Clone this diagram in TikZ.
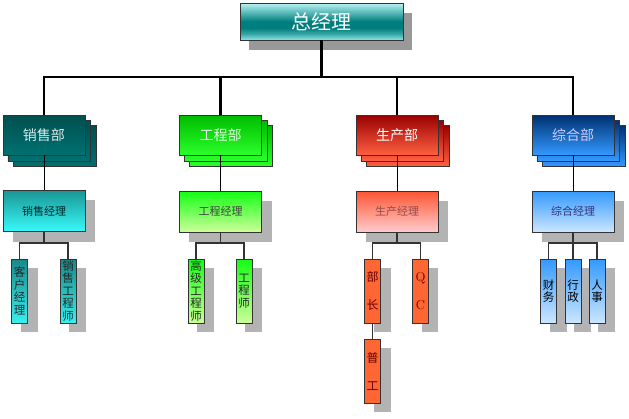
\documentclass[tikz,border=0pt]{standalone}
\usepackage{fontspec}
\newfontfamily\cjk{Noto Sans CJK SC}
\usetikzlibrary{backgrounds}
\definecolor{bordc}{HTML}{333333}
\definecolor{shadc}{HTML}{B3B3B3}
\definecolor{topshadc}{HTML}{999999}
% top
\definecolor{gmT}{HTML}{B8F4F4}\definecolor{gmM}{HTML}{007E7E}\definecolor{gmB}{HTML}{90E6E6}\definecolor{gmQ}{HTML}{3AA8A8}
\pgfdeclareverticalshading{gmshade}{100bp}{color(0bp)=(gmB); color(25bp)=(gmB); color(33bp)=(gmQ); color(41bp)=(gmM); color(50bp)=(gmM); color(75bp)=(gmT); color(100bp)=(gmT)}
% sales
\definecolor{sdT}{HTML}{004F4F}\definecolor{sdB}{HTML}{007070}
\definecolor{smT}{HTML}{1A9696}\definecolor{smB}{HTML}{38FAFA}
\definecolor{scT}{HTML}{1A8888}\definecolor{scB}{HTML}{38F0F0}
% engineering
\definecolor{edT}{HTML}{00BB00}\definecolor{edB}{HTML}{2AFF2A}
\definecolor{emT}{HTML}{14FF14}\definecolor{emB}{HTML}{CCFF99}
% production
\definecolor{pdT}{HTML}{990000}\definecolor{pdB}{HTML}{FF6040}
\definecolor{pmT}{HTML}{FF5533}\definecolor{pmB}{HTML}{FFCCCC}
\definecolor{pcF}{HTML}{FF6633}
% general
\definecolor{gdT}{HTML}{003070}\definecolor{gdB}{HTML}{3399FF}
\definecolor{gnT}{HTML}{3399FF}\definecolor{gnB}{HTML}{CCE6FF}
\begin{document}
\begin{tikzpicture}[x=1pt,y=-1pt,
  box/.style={draw=bordc,line width=0.8pt,rectangle,inner sep=0pt},
  gmbox/.style={box,minimum width=163pt,minimum height=37pt,shading=gmshade,
     text=white,font=\cjk\fontsize{20}{22}\selectfont},
  dept/.style={box,minimum width=82pt,minimum height=40pt,font=\cjk\fontsize{14}{16}\selectfont},
  mgr/.style={box,minimum width=82pt,minimum height=41pt,font=\cjk\fontsize{11}{13}\selectfont},
  staff/.style={box,minimum width=16pt,minimum height=64pt,align=center,font=\cjk\fontsize{11.5}{12.5}\selectfont},
  staffwide/.style={staff,font=\cjk\fontsize{12}{28}\selectfont},
  sd/.style={top color=sdT,bottom color=sdB},
  sm/.style={top color=smT,bottom color=smB},
  sc/.style={top color=scT,bottom color=scB},
  ed/.style={top color=edT,bottom color=edB},
  em/.style={top color=emT,bottom color=emB},
  pd/.style={top color=pdT,bottom color=pdB},
  pm/.style={top color=pmT,bottom color=pmB},
  pc/.style={fill=pcF},
  gd/.style={top color=gdT,bottom color=gdB},
  gn/.style={top color=gnT,bottom color=gnB},
  busline/.style={line width=2.6pt,black,line join=miter},
  dline/.style={line width=0.9pt,black},
  sline/.style={line width=1.1pt,bordc}
]
\useasboundingbox (0,0) rectangle (629,418);

% general manager
\node[gmbox] (gm) at (321.5,21.5) {总经理};

% departments
\node[dept,sd,text=white!85!teal] (d1) at (44,135) {销售部};
\node[dept,ed,text=white!88!green] (d2) at (220.5,135) {工程部};
\node[dept,pd,text=white] (d3) at (397,135) {生产部};
\node[dept,gd,text=white!80!blue] (d4) at (573,135) {综合部};

% managers
\node[mgr,sm,text=black!70!teal] (m1) at (44,211) {销售经理};
\node[mgr,em,text=black!75] (m2) at (220.5,211.5) {工程经理};
\node[mgr,pm,text=red!40!black!70] (m3) at (397,211.5) {生产经理};
\node[mgr,gn,text=blue!35!black!80] (m4) at (573,211.5) {综合经理};

% staff
\node[staff,sc,text=black!85] (c11) at (19.7,291) {客\\户\\经\\理};
\node[staff,sc,text=black!85] (c12) at (68,291) {销\\售\\工\\程\\师};
\node[staff,em,text=black!85] (c21) at (196,291) {高\\级\\工\\程\\师};
\node[staff,em,text=black!85] (c22) at (244,291) {工\\程\\师};
\node[staffwide,pc,text=red!40!black] (c31) at (372.7,291) {部\\长};
\node[staffwide,pc,text=red!40!black,font=\rmfamily\fontsize{13}{28}\selectfont] (c32) at (420.5,291) {Q\\C};
\node[staffwide,pc,text=red!40!black] (c33) at (372.7,371) {普\\工};
\node[staff,gn,text=black] (c41) at (548.7,291) {财\\务};
\node[staff,gn,text=black] (c42) at (573,291) {行\\政};
\node[staff,gn,text=black] (c43) at (597,291) {人\\事};

% shadows and stacks
\begin{scope}[on background layer]
  \fill[topshadc] ([shift={(9,10)}]gm.north west) rectangle ([shift={(9,10)}]gm.south east);
  \foreach \n in {m1,m2,m3,m4}
    \fill[shadc] ([shift={(10,10)}]\n.north west) rectangle ([shift={(10,10)}]\n.south east);
  \foreach \n in {c11,c12,c21,c22,c31,c32,c33,c41,c42,c43}
    \fill[shadc] ([shift={(9.5,9)}]\n.north west) rectangle ([shift={(9.5,9)}]\n.south east);
  \foreach \n/\s in {d1/sd,d2/ed,d3/pd,d4/gd}{
    \path[draw=bordc,line width=0.8pt,\s] ([shift={(10.5,11)}]\n.north west) rectangle ([shift={(10.5,11)}]\n.south east);
    \path[draw=bordc,line width=0.8pt,\s] ([shift={(5.3,5.5)}]\n.north west) rectangle ([shift={(5.3,5.5)}]\n.south east);
  }
\end{scope}

% top bus
\coordinate (bus) at (0,77);
\draw[busline] (gm.south) -- (gm.south |- bus);
\draw[busline] (d1.north) -- (d1.north |- bus) -- (d4.north |- bus) -- (d4.north);
\draw[busline] (d2.north) -- (d2.north |- bus);
\draw[busline] (d3.north) -- (d3.north |- bus);

% department to manager
\foreach \i in {1,2,3,4}
  \draw[dline] (d\i.south) -- (m\i.north);

% manager to staff
\coordinate (j1) at (44,243);
\coordinate (j2) at (220.5,243);
\coordinate (j3) at (397,243);
\coordinate (j4) at (573,243);
\draw[sline] (m1.south) -- (j1);
\draw[sline] (c11.north) |- (j1) -| (c12.north);
\draw[sline] (m2.south) -- (j2);
\draw[sline] (c21.north) |- (j2) -| (c22.north);
\draw[sline] (m3.south) -- (j3);
\draw[sline] (c31.north) |- (j3) -| (c32.north);
\draw[sline] (c31.south) -- (c33.north);
\draw[sline] (m4.south) -- (c42.north);
\draw[sline] (c41.north) |- (j4) -| (c43.north);
\end{tikzpicture}
\end{document}
